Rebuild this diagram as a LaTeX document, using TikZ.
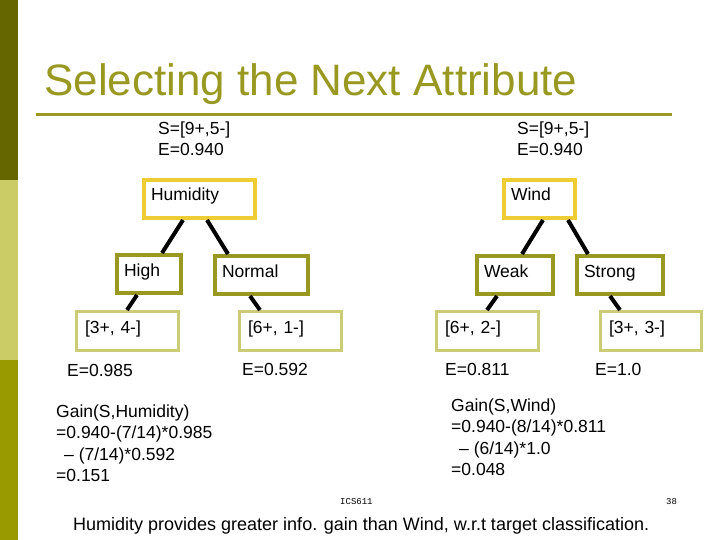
\documentclass[tikz,border=0pt]{standalone}
\usepackage{fontspec}
\setmainfont{Liberation Sans}
\newfontfamily\footmono{Liberation Mono}
\definecolor{bardark}{RGB}{102,102,0}
\definecolor{barlight}{RGB}{204,204,102}
\definecolor{barolive}{RGB}{153,153,0}
\definecolor{titleolive}{RGB}{153,153,34}
\definecolor{rootgold}{RGB}{238,204,51}
\definecolor{valueolive}{RGB}{153,153,34}
\definecolor{leafpale}{RGB}{204,204,119}

\begin{document}
\begin{tikzpicture}[
    x=1pt, y=-1pt,
    txt/.style={font=\fontsize{17.5}{21.5}\selectfont, inner sep=0pt, align=left, anchor=base west},
    attr/.style={rectangle, draw=rootgold, line width=4pt, fill=white, minimum height=38pt, inner xsep=7pt, inner ysep=0pt, text height=12pt, text depth=8pt, align=left, font=\fontsize{17.5}{21.5}\selectfont},
    value/.style={attr, draw=valueolive},
    leaf/.style={attr, draw=leafpale, line width=3pt, minimum height=39pt, inner xsep=8.5pt},
    edge/.style={line width=4pt, black},
    foot/.style={font=\footmono\fontsize{9}{10}\selectfont, inner sep=0pt, anchor=base west},
]
\useasboundingbox (0,0) rectangle (720,540);
\fill[white] (0,0) rectangle (720,540);
% side bar
\fill[bardark] (0,0) rectangle (18,180);
\fill[barlight] (0,180) rectangle (18,360);
\fill[barolive] (0,360) rectangle (18,540);

\node[font=\fontsize{44}{50}\selectfont, text=titleolive, inner sep=0pt, anchor=base west] (title) at (44,96) {Selecting the Next Attribute};
\draw[titleolive, line width=3pt] (36,115) -- (672,115);

% base of a multi-line node = its last line
\node[txt] (shum) at (158,156) {S=[9+,5-]\\E=0.940};
\node[txt] (swind) at (517,156) {S=[9+,5-]\\E=0.940};

\node[attr, text width=97pt] (hum) at (199.5,199) {Humidity};
\node[attr, text width=57pt] (wind) at (539.5,199) {Wind};

\node[value, text width=50pt] (high) at (149,274) {High};
\node[value, text width=79pt] (normal) at (261.5,275) {Normal};
\node[value, text width=62pt] (weak) at (515,275) {Weak};
\node[value, text width=72pt] (strong) at (620,275) {Strong};

\node[leaf, text width=85pt] (hleaf) at (127.5,331) {[3+, 4-]};
\node[leaf, text width=85pt] (nleaf) at (290.5,331) {[6+, 1-]};
\node[leaf, text width=85pt] (wleaf) at (487.5,331) {[6+, 2-]};
\node[leaf, text width=84pt] (sleaf) at (651,331) {[3+, 3-]};

\draw[edge] ([xshift=-16.5pt]hum.south) -- ([xshift=13pt]high.north);
\draw[edge] ([xshift=7.5pt]hum.south) -- ([xshift=-33.5pt]normal.north);
\draw[edge] ([xshift=3.5pt]wind.south) -- ([xshift=7pt]weak.north);
\draw[edge] ([xshift=28.5pt]wind.south) -- ([xshift=-32pt]strong.north);
\draw[edge] ([xshift=-12pt]high.south) -- ([xshift=-0.5pt]hleaf.north);
\draw[edge] ([xshift=-11.5pt]normal.south) -- ([xshift=-30.5pt]nleaf.north);
\draw[edge] ([xshift=-18pt]weak.south) -- ([xshift=-0.5pt]wleaf.north);
\draw[edge] ([xshift=-10pt]strong.south) -- ([xshift=-31pt]sleaf.north);

\node[txt] (ehigh) at (67,376) {E=0.985};
\node[txt] (enormal) at (242,375) {E=0.592};
\node[txt] (eweak) at (445,375) {E=0.811};
\node[txt] (estrong) at (595,375) {E=1.0};

\node[txt] (gainhum) at (56,481.5) {Gain(S,Humidity)\\=0.940-(7/14)*0.985\\\hspace*{8pt}– (7/14)*0.592\\=0.151};
\node[txt] (gainwind) at (451,475.5) {Gain(S,Wind)\\=0.940-(8/14)*0.811\\\hspace*{8pt}– (6/14)*1.0\\=0.048};

\node[foot] (course) at (340,504) {ICS611};
\node[foot] (page) at (666,504) {38};
\node[txt, font=\fontsize{18}{21.5}\selectfont] (concl) at (73,530) {Humidity provides greater info. gain than Wind, w.r.t target classification.};
\end{tikzpicture}
\end{document}
